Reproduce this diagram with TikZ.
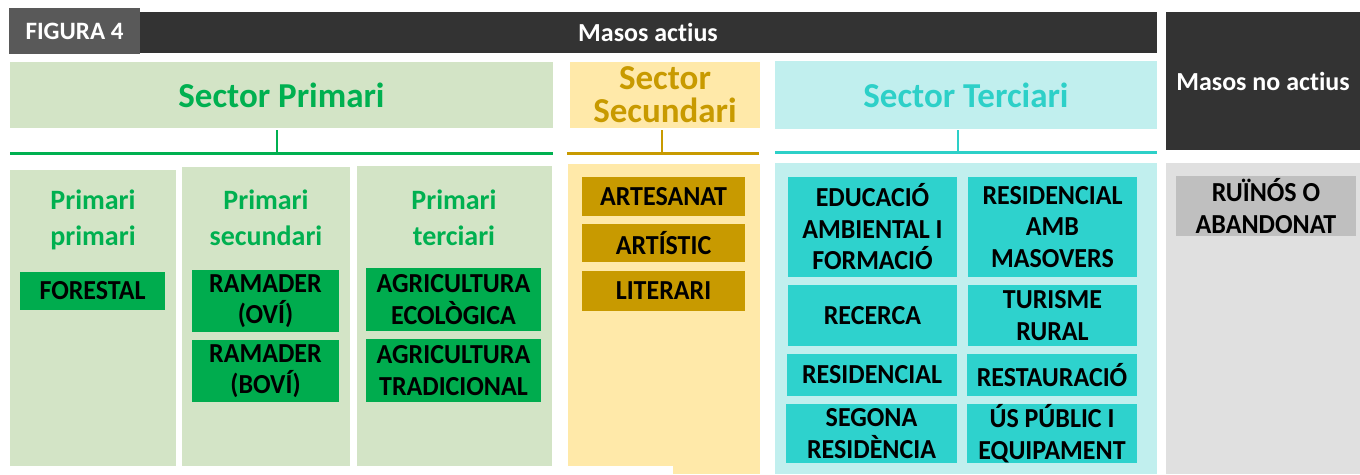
\documentclass[tikz,border=0pt]{standalone}
\usepackage{fontspec}
\setmainfont[Ligatures=NoCommon]{Carlito}
\newfontfamily\itemfont[Ligatures=NoCommon,FakeStretch=0.945]{Carlito}
\definecolor{darkbar}{HTML}{333333}
\definecolor{figgray}{HTML}{595959}
\definecolor{lgreen}{HTML}{D3E4C6}
\definecolor{tgreen}{HTML}{00B050}
\definecolor{igreen}{HTML}{00AC4E}
\definecolor{lyellow}{HTML}{FFE9A9}
\definecolor{gold}{HTML}{C89A00}
\definecolor{lcyan}{HTML}{C1EFEE}
\definecolor{tcyan}{HTML}{2DD0C8}
\definecolor{icyan}{HTML}{2ED2CD}
\definecolor{lgray}{HTML}{E0E0E0}
\definecolor{igray}{HTML}{BFBFBF}
\tikzset{
  pbox/.style={anchor=north west, inner sep=0pt, outer sep=0pt, align=center},
  item/.style={pbox, font=\itemfont\fontsize{27.5}{31.5}\selectfont\bfseries, text=black},
  header/.style={pbox, font=\fontsize{35}{33}\selectfont\bfseries},
  subhead/.style={inner sep=0pt, align=center, font=\fontsize{28}{36}\selectfont\bfseries, text=tgreen},
  column/.style={pbox},
  tree/.style={line width=3pt},
  stem/.style={line width=2pt}
}
\begin{document}
\begin{tikzpicture}[x=1pt,y=-1pt]
\useasboundingbox[fill=white] (0,0) rectangle (1360,474);
% top bars
\node[pbox, fill=darkbar, minimum width=1018, minimum height=41, text=white,
      font=\fontsize{26}{30}\selectfont\bfseries] (actius) at (139,12) {Masos actius};
\node[pbox, fill=figgray, minimum width=131, minimum height=46, text=white,
      font=\fontsize{25}{28}\selectfont\bfseries] (fig) at (9,8) {FIGURA 4};
\node[pbox, fill=darkbar, minimum width=194, minimum height=138, text=white,
      font=\fontsize{26}{30}\selectfont\bfseries] (noactius) at (1166,12) {Masos no actius};
% sector headers
\node[header, fill=lgreen, text=tgreen, minimum width=543, minimum height=66] (sp) at (10,62) {Sector Primari};
\node[header, fill=lyellow, text=gold, minimum width=190, minimum height=66] (ss) at (570,62) {Sector\\Secundari};
\node[header, fill=lcyan, text=tcyan, minimum width=382, minimum height=68] (st) at (775,61) {Sector Terciari};
% tree connectors
\coordinate (spT) at (277,130); \coordinate (spB) at (277,153);
\coordinate (spL) at (10,153); \coordinate (spR) at (553,153);
\draw[stem, tgreen] (spT) -- (spB);
\draw[tree, tgreen] (spL) -- (spR);
\coordinate (ssT) at (662,130); \coordinate (ssB) at (662,153);
\coordinate (ssL) at (567,153); \coordinate (ssR) at (759,153);
\draw[stem, gold] (ssT) -- (ssB);
\draw[tree, gold] (ssL) -- (ssR);
\coordinate (stT) at (958,130); \coordinate (stB) at (958,152);
\coordinate (stL) at (775,152); \coordinate (stR) at (1157,152);
\draw[stem, tcyan] (stT) -- (stB);
\draw[tree, tcyan] (stL) -- (stR);
% columns
\node[column, fill=lgreen, minimum width=166, minimum height=296] (c1) at (10,170) {};
\node[column, fill=lgreen, minimum width=168, minimum height=299] (c2) at (182,167) {};
\node[column, fill=lgreen, minimum width=195, minimum height=300] (c3) at (357,166) {};
\node[column, fill=lyellow, minimum width=192, minimum height=310] (c4) at (568,164) {};
\fill[white] (560,466) rectangle (673,474);
\node[column, fill=lcyan, minimum width=382, minimum height=311] (c5) at (775,163) {};
\node[column, fill=lgray, minimum width=194, minimum height=311] (c6) at (1166,163) {};
% primary subheads
\node[subhead] (h1) at (93,220) {Primari\\primari};
\node[subhead] (h2) at (266,218) {Primari\\secundari};
\node[subhead] (h3) at (454,218) {Primari\\terciari};
% primary items
\node[item, fill=igreen, minimum width=145, minimum height=38] (forestal) at (20,272) {FORESTAL};
\node[item, fill=igreen, minimum width=147, minimum height=62] (ovi) at (192,270) {RAMADER\\(OVÍ)};
\node[item, fill=igreen, minimum width=147, minimum height=62] (bovi) at (192,340) {RAMADER\\(BOVÍ)};
\node[item, fill=igreen, minimum width=175, minimum height=63] (eco) at (366,268) {AGRICULTURA\\ECOLÒGICA};
\node[item, fill=igreen, minimum width=175, minimum height=63] (trad) at (366,339) {AGRICULTURA\\TRADICIONAL};
% secondary items
\node[item, fill=gold, minimum width=163, minimum height=39] (artesanat) at (582,177) {ARTESANAT};
\node[item, fill=gold, minimum width=163, minimum height=38] (artistic) at (582,224) {ARTÍSTIC};
\node[item, fill=gold, minimum width=163, minimum height=40] (literari) at (582,271) {LITERARI};
% tertiary items
\node[item, fill=icyan, minimum width=169, minimum height=100] (edu) at (788,177) {EDUCACIÓ\\AMBIENTAL I\\FORMACIÓ};
\node[item, fill=icyan, minimum width=169, minimum height=100] (resamb) at (968,177) {RESIDENCIAL\\AMB\\MASOVERS};
\node[item, fill=icyan, minimum width=169, minimum height=61] (recerca) at (788,285) {RECERCA};
\node[item, fill=icyan, minimum width=169, minimum height=61] (turisme) at (968,285) {TURISME\\RURAL};
\node[item, fill=icyan, minimum width=170, minimum height=42] (res) at (787,354) {RESIDENCIAL};
\node[item, fill=icyan, minimum width=170, minimum height=42] (rest) at (967,354) {RESTAURACIÓ};
\node[item, fill=icyan, minimum width=171, minimum height=59] (segona) at (786,404) {SEGONA\\RESIDÈNCIA};
\node[item, fill=icyan, minimum width=170, minimum height=59] (us) at (967,404) {ÚS PÚBLIC I\\EQUIPAMENT};
% inactive
\node[item, fill=igray, minimum width=180, minimum height=60] (ruinos) at (1176,176) {RUÏNÓS O\\ABANDONAT};
\end{tikzpicture}
\end{document}
